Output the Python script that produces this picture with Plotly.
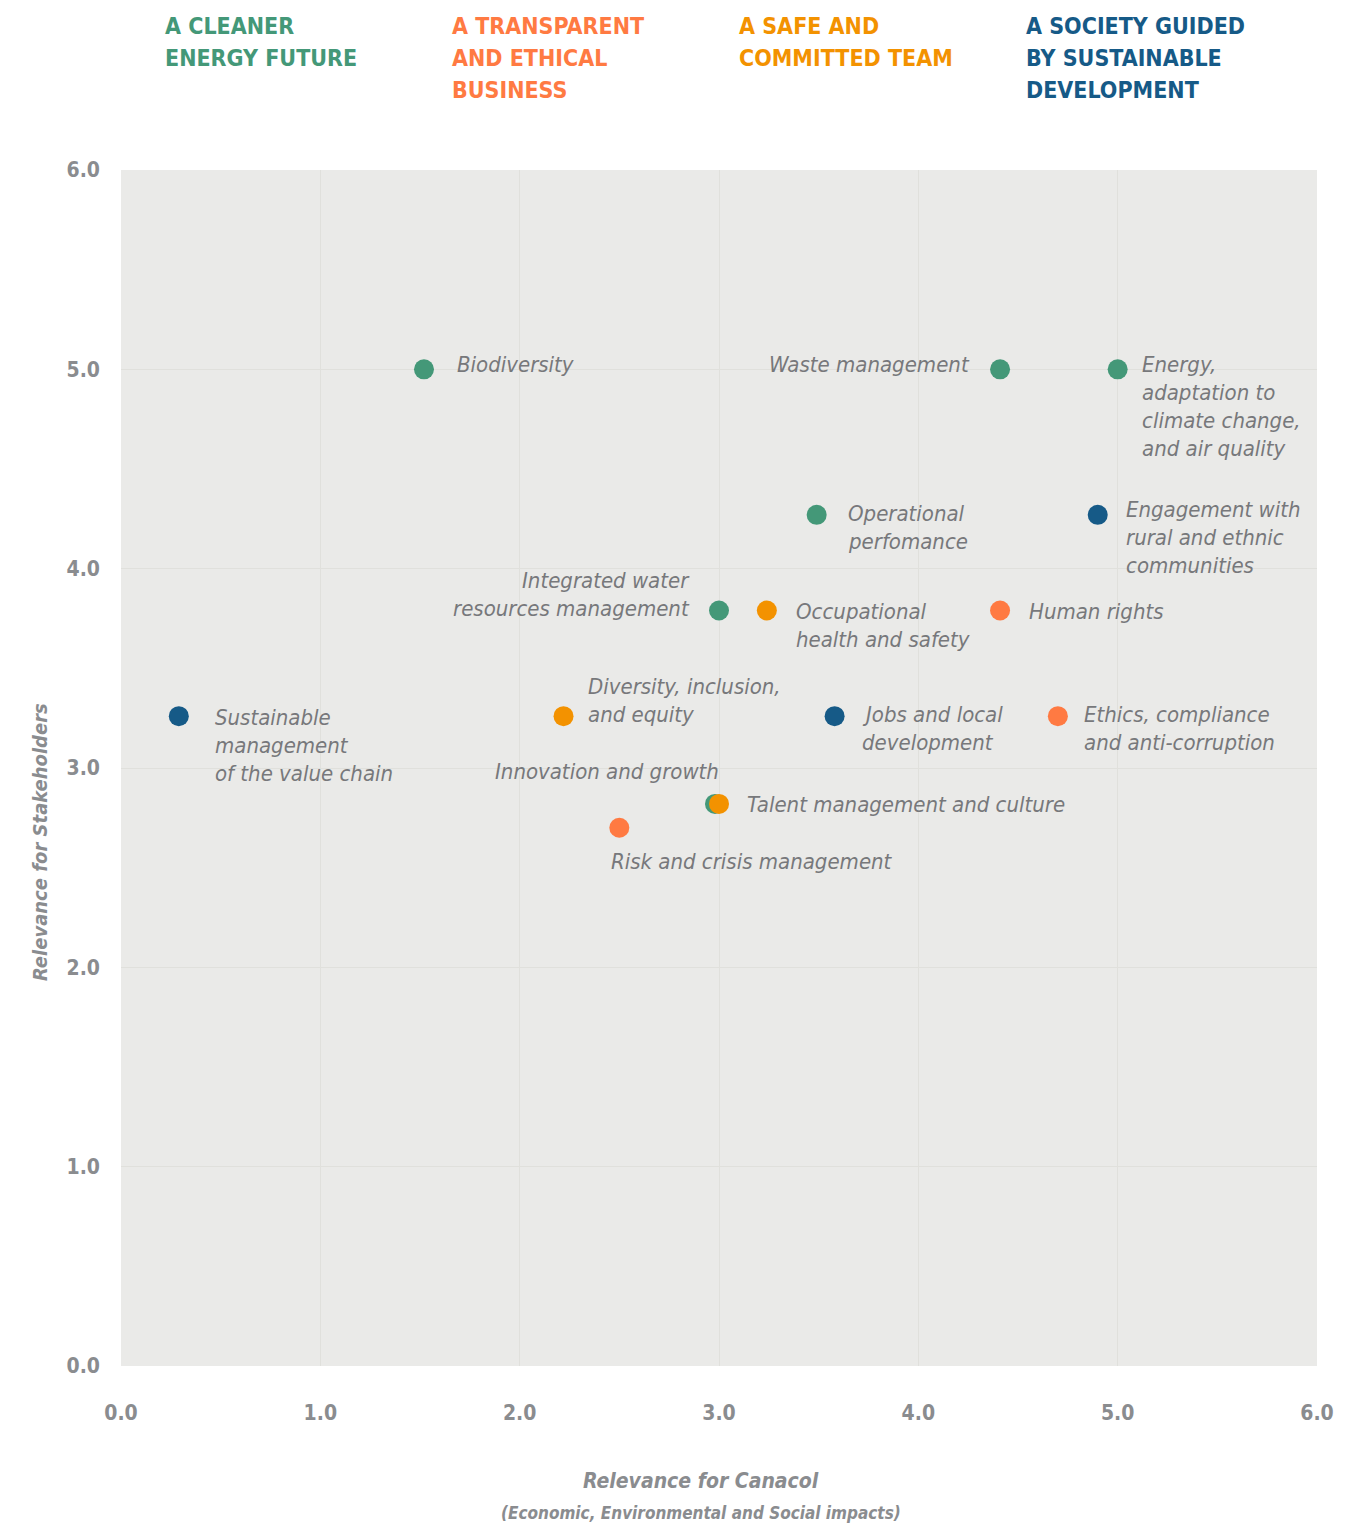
import plotly.graph_objects as go

# ---- data ----
topics = [
    "Biodiversity",
    "Waste management",
    "Energy,\nadaptation to\nclimate change,\nand air quality",
    "Operational\nperfomance",
    "Engagement with\nrural and ethnic\ncommunities",
    "Integrated water\nresources management",
    "Occupational\nhealth and safety",
    "Human rights",
    "Sustainable\nmanagement\nof the value chain",
    "Diversity, inclusion,\nand equity",
    "Jobs and local\ndevelopment",
    "Ethics, compliance\nand anti-corruption",
    "Innovation and growth",
    "Talent management and culture",
    "Risk and crisis management",
]
relevance_canacol = [1.52, 4.41, 5.00, 3.49, 4.90, 3.00, 3.24, 4.41, 0.29, 2.22, 3.58, 4.70, 2.98, 3.00, 2.50]
relevance_stakeholders = [5.00, 5.00, 5.00, 4.27, 4.27, 3.79, 3.79, 3.79, 3.26, 3.26, 3.26, 3.26, 2.82, 2.82, 2.70]
pillar = ["clean", "clean", "clean", "clean", "society", "clean", "safe", "ethics",
          "society", "safe", "society", "ethics", "clean", "safe", "ethics"]

pillar_keys = ["clean", "ethics", "safe", "society"]
pillar_titles = ["A CLEANER\nENERGY FUTURE", "A TRANSPARENT\nAND ETHICAL\nBUSINESS",
                 "A SAFE AND\nCOMMITTED TEAM", "A SOCIETY GUIDED\nBY SUSTAINABLE\nDEVELOPMENT"]
pillar_colors = {"clean": "#449878", "ethics": "#FF7A42", "safe": "#F39200", "society": "#165A87"}

x_ticks = [0, 1, 2, 3, 4, 5, 6]
y_ticks = [0, 1, 2, 3, 4, 5, 6]

# label placement (style): anchor, x pixel offset, y pixel offset of first line (down positive)
label_style = [
    ("left", 31, -5), ("right", -28, -5), ("left", 22, -5), ("left", 29, -1),
    ("left", 26, -5), ("right", -27, -30), ("left", 27, 1), ("left", 27, 1),
    ("left", 34, 1), ("left", 22, -30), ("left", 25, -2), ("left", 24, -2),
    ("right", 6, -32), ("left", 26, 1), ("left", -10, 34),
]

FONT = "DejaVu Sans Condensed"
GRAY = "#8a8c8f"
LABEL_GRAY = "#77787b"

# page body has an 8px margin; figure coordinates are page coordinates minus 8
OFF = 8
W, H = 1359, 1518
L = 121 - OFF
T = 170 - OFF
pw = 1196
ph = 1196
R = W - L - pw
B = H - T - ph

fig = go.Figure()
for key in pillar_keys:
    idx = [i for i, p in enumerate(pillar) if p == key]
    fig.add_trace(go.Scatter(
        x=[relevance_canacol[i] for i in idx],
        y=[relevance_stakeholders[i] for i in idx],
        mode="markers",
        marker=dict(size=20, color=pillar_colors[key], line=dict(width=0)),
        showlegend=False, hoverinfo="skip",
    ))

annotations = []
LINE = 28
for i, txt in enumerate(topics):
    anchor, dx, dy = label_style[i]
    for j, line in enumerate(txt.split("\n")):
        annotations.append(dict(
            x=relevance_canacol[i], y=relevance_stakeholders[i], xref="x", yref="y",
            text=line, showarrow=False, xanchor=anchor, yanchor="middle",
            xshift=dx, yshift=-(dy + LINE * j),
            font=dict(family=FONT, size=22, color=LABEL_GRAY, style="italic"),
        ))


def px(page_x):
    return (page_x - OFF - L) / pw


def py(page_y):
    return (T + ph - (page_y - OFF)) / ph


header_x = [163, 450, 737, 1024]
for k, key in enumerate(pillar_keys):
    for j, line in enumerate(pillar_titles[k].split("\n")):
        annotations.append(dict(
            x=px(header_x[k]), y=py(26 + 32 * j), xref="paper", yref="paper",
            text=line, showarrow=False, xanchor="left", yanchor="middle",
            font=dict(family=FONT, size=23, color=pillar_colors[key], weight="bold"),
        ))

annotations.append(dict(
    x=px(701), y=py(1481), xref="paper", yref="paper",
    text="Relevance for Canacol", showarrow=False, xanchor="center", yanchor="middle",
    font=dict(family=FONT, size=21, color=GRAY, weight="bold", style="italic"),
))
annotations.append(dict(
    x=px(701), y=py(1513), xref="paper", yref="paper",
    text="(Economic, Environmental and Social impacts)", showarrow=False,
    xanchor="center", yanchor="middle",
    font=dict(family=FONT, size=17, color=GRAY, weight="bold", style="italic"),
))
annotations.append(dict(
    x=px(40), y=py(842), xref="paper", yref="paper",
    text="Relevance for Stakeholders", showarrow=False, textangle=-90,
    xanchor="center", yanchor="middle",
    font=dict(family=FONT, size=20, color=GRAY, weight="bold", style="italic"),
))

fig.update_layout(
    width=W, height=H,
    margin=dict(l=L, r=R, t=T, b=B, pad=0),
    paper_bgcolor="white", plot_bgcolor="#eaeae8",
    annotations=annotations,
    xaxis=dict(range=[0, 6], tickvals=x_ticks, ticktext=[f"{v:.1f}" for v in x_ticks],
               showgrid=True, gridcolor="#e0e0dc", gridwidth=1, zeroline=False,
               showline=False, ticks="", ticklabelstandoff=32,
               tickfont=dict(family=FONT, size=21, color=GRAY, weight="bold")),
    yaxis=dict(range=[0, 6], tickvals=y_ticks, ticktext=[f"{v:.1f}" for v in y_ticks],
               showgrid=True, gridcolor="#e0e0dc", gridwidth=1, zeroline=False,
               showline=False, ticks="", ticklabelstandoff=20,
               tickfont=dict(family=FONT, size=21, color=GRAY, weight="bold")),
)

fig.write_html("out.html")
